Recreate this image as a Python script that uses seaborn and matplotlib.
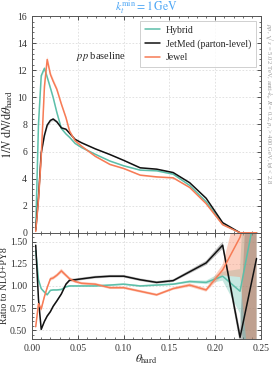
import numpy as np
import pandas as pd
import matplotlib
matplotlib.use("Agg")
import matplotlib.pyplot as plt
from matplotlib.ticker import MultipleLocator, AutoMinorLocator
from matplotlib.lines import Line2D
import seaborn as sns

# theta_hard bin centres
theta = [0.004, 0.007, 0.010, 0.0135, 0.0165, 0.020, 0.023, 0.027, 0.032, 0.037, 0.041, 0.047,
         0.054, 0.069, 0.085, 0.100, 0.118, 0.136, 0.154, 0.172, 0.190, 0.208, 0.227, 0.245]

# 1/N dN/dtheta_hard
hybrid = [0.3, 8.0, 11.6, 12.15, 11.5, 10.7, 10.0, 8.9, 7.7, 7.3, 7.05, 6.6,
          6.3, 5.8, 5.3, 4.95, 4.63, 4.58, 4.33, 3.5, 2.3, 0.63, 0.0, 0.0]
jetmed = [0.2, 2.6, 5.9, 7.2, 7.95, 8.3, 8.4, 8.2, 7.75, 7.65, 7.35, 6.9,
          6.65, 6.2, 5.78, 5.35, 4.8, 4.7, 4.45, 3.7, 2.55, 0.75, 0.0, 0.0]
jewel = [0.1, 2.4, 5.6, 10.8, 12.8, 11.7, 11.2, 10.6, 9.5, 8.5, 7.5, 6.8,
         6.4, 5.65, 5.05, 4.75, 4.26, 4.13, 4.06, 3.35, 2.15, 0.6, 0.0, 0.0]
hybrid_err = [0.05, 0.15, 0.15, 0.15, 0.12, 0.1, 0.1, 0.08, 0.08, 0.06, 0.06, 0.05,
              0.05, 0.04, 0.04, 0.04, 0.04, 0.04, 0.04, 0.03, 0.03, 0.02, 0.0, 0.0]
jetmed_err = [0.05, 0.1, 0.12, 0.12, 0.12, 0.12, 0.12, 0.1, 0.08, 0.06, 0.06, 0.05,
              0.05, 0.04, 0.04, 0.04, 0.04, 0.04, 0.04, 0.03, 0.03, 0.02, 0.0, 0.0]
jewel_err = [0.05, 0.15, 0.2, 0.25, 0.25, 0.22, 0.2, 0.18, 0.15, 0.12, 0.1, 0.08,
             0.07, 0.06, 0.05, 0.05, 0.05, 0.05, 0.05, 0.04, 0.03, 0.02, 0.0, 0.0]

# ratio to NLO+PY8
hybrid_ratio = [1.40, 1.07, 0.97, 0.93, 0.90, 0.95, 0.955, 0.955, 0.96, 0.99, 1.0, 1.0,
                1.0, 1.0, 1.01, 1.02, 1.0, 1.01, 1.02, 1.05, 1.04, 1.11, 0.94, 1.9]
jetmed_ratio = [1.46, 0.85, 0.51, 0.60, 0.66, 0.71, 0.77, 0.83, 0.91, 1.02, 1.065, 1.07,
                1.08, 1.10, 1.11, 1.11, 1.07, 1.04, 1.06, 1.16, 1.26, 1.46, 0.42, 1.31]
jewel_ratio = [0.54, 0.80, 0.74, 0.88, 0.98, 1.08, 1.09, 1.12, 1.17, 1.12, 1.08, 1.05,
               1.03, 1.02, 0.98, 0.98, 0.94, 0.90, 0.97, 1.01, 0.955, 1.18, 1.55, 2.2]
hybrid_ratio_err = [0.02, 0.02, 0.01, 0.01, 0.01, 0.01, 0.01, 0.01, 0.01, 0.01, 0.01, 0.01,
                    0.01, 0.01, 0.01, 0.01, 0.01, 0.01, 0.01, 0.015, 0.02, 0.05, 0.25, 3.0]
jetmed_ratio_err = [0.02, 0.02, 0.015, 0.015, 0.015, 0.015, 0.015, 0.015, 0.015, 0.015, 0.015, 0.015,
                    0.015, 0.015, 0.015, 0.015, 0.015, 0.015, 0.015, 0.02, 0.025, 0.04, 0.08, 3.0]
jewel_ratio_err = [0.03, 0.03, 0.03, 0.02, 0.02, 0.02, 0.02, 0.02, 0.025, 0.02, 0.02, 0.015,
                   0.015, 0.015, 0.015, 0.015, 0.015, 0.015, 0.015, 0.02, 0.02, 0.06, 0.45, 3.0]

models = ["Hybrid", "JetMed (parton-level)", "Jewel"]
colors = {"Hybrid": "#5cbfa9", "JetMed (parton-level)": "#111111", "Jewel": "#f77b55"}
band_colors = {"Hybrid": "#5cbfa9", "JetMed (parton-level)": "#333333", "Jewel": "#f98a66"}
band_alpha = {"Hybrid": 0.35, "JetMed (parton-level)": 0.3, "Jewel": 0.4}

sns.set_style("ticks")
plt.rcParams["font.family"] = ["Liberation Serif", "DejaVu Serif"]
plt.rcParams["mathtext.fontset"] = "stix"
plt.rcParams["xtick.direction"] = "in"
plt.rcParams["ytick.direction"] = "in"

df = pd.DataFrame({
    "theta": theta * 3,
    "val": hybrid + jetmed + jewel,
    "err": hybrid_err + jetmed_err + jewel_err,
    "ratio": hybrid_ratio + jetmed_ratio + jewel_ratio,
    "rerr": hybrid_ratio_err + jetmed_ratio_err + jewel_ratio_err,
    "model": [m for m in models for _ in theta],
})

fig = plt.figure(figsize=(2.74, 3.67), dpi=100)
gs = fig.add_gridspec(2, 1, height_ratios=[216, 106], hspace=0,
                      left=0.117, right=0.953, top=0.956, bottom=0.076)
ax = fig.add_subplot(gs[0])
axr = fig.add_subplot(gs[1], sharex=ax)

for m in models:
    d = df[df["model"] == m]
    ax.fill_between(d["theta"], d["val"] - d["err"], d["val"] + d["err"],
                    color=band_colors[m], alpha=band_alpha[m] * 0.6, lw=0)
    axr.fill_between(d["theta"], d["ratio"] - d["rerr"], d["ratio"] + d["rerr"],
                     color=band_colors[m], alpha=band_alpha[m], lw=0)

sns.lineplot(data=df, x="theta", y="val", hue="model", palette=colors,
             estimator=None, sort=True, lw=1.1, legend=False, ax=ax)
sns.lineplot(data=df, x="theta", y="ratio", hue="model", palette=colors,
             estimator=None, sort=True, lw=1.1, legend=False, ax=axr)

for a in (ax, axr):
    a.set_xlim(0, 0.25)
    a.xaxis.set_major_locator(MultipleLocator(0.05))
    a.xaxis.set_minor_locator(AutoMinorLocator(5))
    a.yaxis.set_minor_locator(AutoMinorLocator(5))
    a.tick_params(which="both", top=True, right=True, labelsize=7, colors="#333333")
    a.tick_params(which="major", length=3, width=0.6)
    a.tick_params(which="minor", length=1.6, width=0.5)
    a.grid(True, which="major", ls=(0, (3, 3)), lw=0.4, color="#cccccc")
    for s in a.spines.values():
        s.set_color("#555555")
        s.set_linewidth(0.7)

ax.set_ylim(0, 16)
ax.yaxis.set_major_locator(MultipleLocator(2))
ax.tick_params(labelbottom=False)
ax.set_xlabel("")
ax.set_ylabel(r"$1/N\ \mathrm{d}N/\mathrm{d}\theta_{\rm hard}$", fontsize=9, labelpad=2)
ax.set_title(r"$k_t^{\rm min} = 1\,\mathrm{GeV}$", fontsize=8.5, color="#4da6f5", pad=1.5)
ax.text(0.075, 13.0, r"$pp$ baseline", fontsize=7.5, ha="center", va="center")
ax.text(1.006, 0.97,
        r"$pp$, $\sqrt{s}$ = 5.02 TeV, anti-$k_t$, $R$ = 0.2, $p_t$ > 400 GeV, $|\eta|$ < 2.8",
        transform=ax.transAxes, rotation=-90, ha="left", va="top", fontsize=4.8, color="#999999")

handles = [Line2D([0], [0], color=colors[m], lw=1.1) for m in models]
leg = ax.legend(handles, models, loc="upper right", fontsize=7, frameon=True,
                fancybox=False, handlelength=1.6, borderpad=0.5, labelspacing=0.45,
                handletextpad=0.6)
leg.get_frame().set_edgecolor("#bbbbbb")
leg.get_frame().set_linewidth(0.6)

axr.set_ylim(0.4, 1.6)
axr.yaxis.set_major_locator(MultipleLocator(0.25))
axr.set_ylabel("Ratio to NLO+PY8", fontsize=7, labelpad=1)
axr.set_xlabel(r"$\theta_{\rm hard}$", fontsize=8.5, labelpad=0)

fig.savefig("out.png", dpi=100)
